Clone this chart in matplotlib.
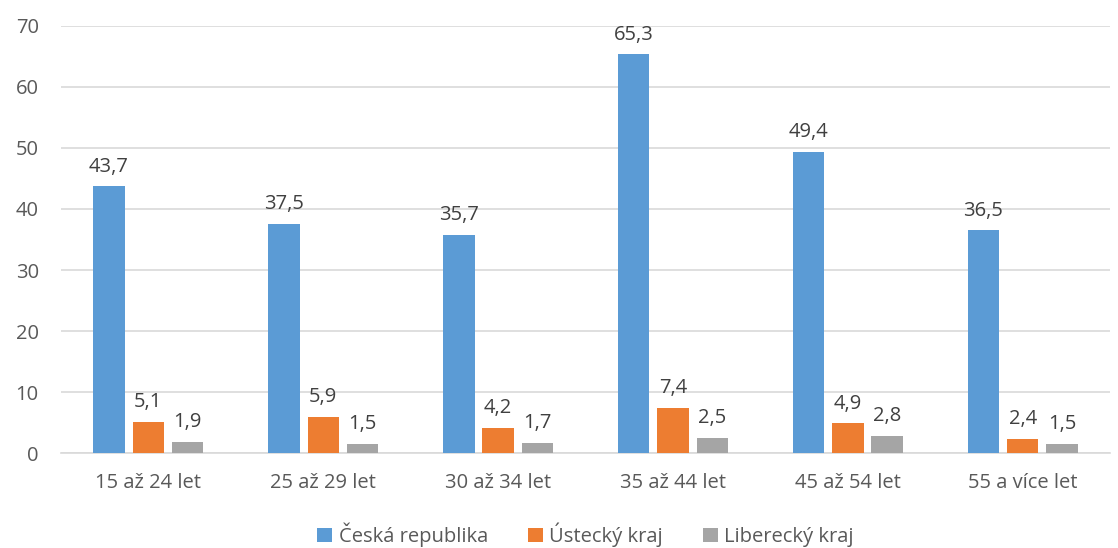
import numpy as np
import matplotlib.pyplot as plt

kategorie = ['15 až 24 let', '25 až 29 let', '30 až 34 let', '35 až 44 let', '45 až 54 let', '55 a více let']
ceska_republika = [43.7, 37.5, 35.7, 65.3, 49.4, 36.5]
ustecky_kraj = [5.1, 5.9, 4.2, 7.4, 4.9, 2.4]
liberecky_kraj = [1.9, 1.5, 1.7, 2.5, 2.8, 1.5]

serie = [
    ('Česká republika', ceska_republika, '#5B9BD5'),
    ('Ústecký kraj', ustecky_kraj, '#ED7D31'),
    ('Liberecký kraj', liberecky_kraj, '#A5A5A5'),
]

plt.rcParams['font.family'] = ['Open Sans', 'DejaVu Sans']
velikost = 14.5

fig = plt.figure(figsize=(11.18, 5.48), dpi=100)
ax = fig.add_axes([0.0545, 0.173, 0.9385, 0.78])

x = np.arange(len(kategorie))
sirka = 0.18
posun = 0.225

for i, (nazev, hodnoty, barva) in enumerate(serie):
    pozice = x + (i - 1) * posun
    sloupce = ax.bar(pozice, hodnoty, sirka, color=barva, label=nazev, zorder=3)
    for s, h in zip(sloupce, hodnoty):
        ax.annotate(f'{h:.1f}'.replace('.', ','),
                    (s.get_x() + s.get_width() / 2, h),
                    xytext=(0, 7), textcoords='offset points',
                    ha='center', va='bottom', fontsize=velikost, color='#404040')

ax.set_xlim(-0.5, len(kategorie) - 0.5)
ax.set_ylim(0, 70)
ax.set_yticks(range(0, 71, 10))
ax.set_xticks(x)
ax.set_xticklabels(kategorie)
ax.tick_params(axis='both', length=0, labelsize=velikost, colors='#595959')
ax.tick_params(axis='x', pad=14)
ax.tick_params(axis='y', pad=16)
ax.grid(axis='y', color='#D9D9D9', linewidth=1.2, zorder=0)

for strana in ['top', 'right', 'left']:
    ax.spines[strana].set_visible(False)
ax.spines['bottom'].set_color('#D9D9D9')
ax.spines['bottom'].set_linewidth(1.2)

ax.legend(loc='upper center', bbox_to_anchor=(0.5, -0.12), ncol=3, frameon=False,
          fontsize=velikost, handlelength=0.75, handleheight=0.75, columnspacing=2.0,
          handletextpad=0.3, labelcolor='#595959')

fig.savefig('out.png', dpi=100)
